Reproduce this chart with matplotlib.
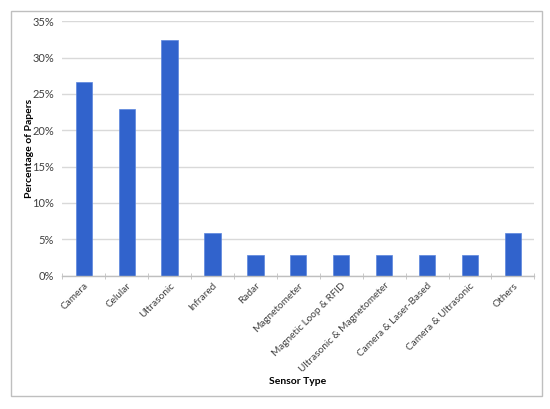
import matplotlib.pyplot as plt
from matplotlib.patches import Rectangle
from matplotlib.ticker import FuncFormatter, FixedLocator

plt.rcParams['font.family'] = ['Lato', 'DejaVu Sans']

categories = ['Camera', 'Celular', 'Ultrasonic', 'Infrared', 'Radar', 'Magnetometer',
              'Magnetic Loop & RFID', 'Ultrasonic & Magnetometer', 'Camera & Laser-Based',
              'Camera & Ultrasonic', 'Others']
values = [26.7, 22.9, 32.4, 5.9, 2.9, 2.9, 2.9, 2.9, 2.9, 2.9, 5.9]
yticks = [0, 5, 10, 15, 20, 25, 30, 35]

fig = plt.figure(figsize=(5.5, 4.09), dpi=100, facecolor='white')
ax = fig.add_axes([0.1133, 0.326, 0.8582, 0.622])

# borde exterior del grafico
fig.patches.append(Rectangle((11 / 550, 13 / 409), 531 / 550, 385 / 409,
                             transform=fig.transFigure, fill=False,
                             edgecolor='#bfbfbf', linewidth=1.0))

x = list(range(len(categories)))
ax.bar(x, values, width=0.38, color='#3163CC', edgecolor='#5b86dd', linewidth=0.5, zorder=3)

ax.set_xlim(-0.5, len(categories) - 0.5)
ax.set_ylim(0, 35)
ax.set_yticks(yticks)
ax.yaxis.set_major_formatter(FuncFormatter(lambda v, p: f'{v:.0f}%'))
ax.grid(axis='y', color='#d9d9d9', linewidth=1.0, zorder=0)

for s in ['top', 'right', 'left']:
    ax.spines[s].set_visible(False)
ax.spines['bottom'].set_color('#bfbfbf')
ax.spines['bottom'].set_linewidth(1.0)
ax.spines['bottom'].set_zorder(4)

ax.tick_params(axis='y', length=0, labelsize=8, labelcolor='#404040', pad=6)
ax.set_xticks(x)
ax.set_xticklabels(categories, rotation=45, ha='right', rotation_mode='anchor',
                   fontsize=7.2, color='#404040')
ax.tick_params(axis='x', which='major', length=0, pad=4)
ax.xaxis.set_minor_locator(FixedLocator([i - 0.5 for i in range(len(categories) + 1)]))
ax.tick_params(axis='x', which='minor', length=4, color='#bfbfbf', direction='inout')

fig.text(298 / 550, 1 - 382 / 409, 'Sensor Type', ha='center', va='center',
         fontsize=7.5, weight='bold', color='black')
fig.text(29 / 550, 1 - 148 / 409, 'Percentage of Papers', ha='center', va='center',
         rotation=90, fontsize=7.5, weight='bold', color='black')

plt.savefig('out.png', dpi=100, facecolor='white')
plt.close()
